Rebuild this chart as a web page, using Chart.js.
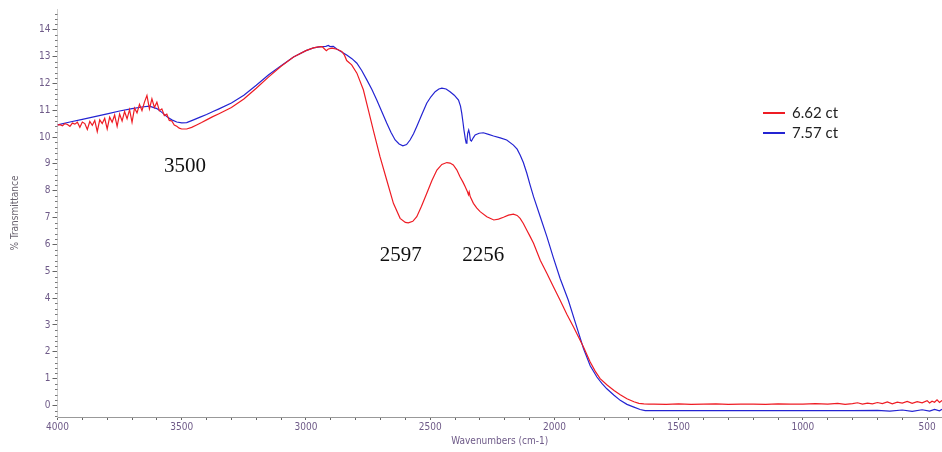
<!DOCTYPE html>
<html><head><meta charset="utf-8">
<script src="https://cdn.jsdelivr.net/npm/chart.js@4.4.1/dist/chart.umd.min.js"></script>
<style>html,body{margin:0;padding:0;background:#fff;}canvas{display:block;}</style>
</head><body>
<canvas id="c" width="942" height="452"></canvas>
<script>
const seriesNames = ['6.62 ct', '7.57 ct'];

const redWavenumbers = [
 4000,3990,3980,3970,3960,3950,3940,3930,3920,3910,3900,3890,3880,3870,3860,3850,3840,3830,3820,3810,
 3800,3790,3780,3770,3760,3750,3740,3730,3720,3710,3700,3690,3680,3670,3660,3650,3640,3630,3620,3610,
 3600,3590,3580,3570,3560,3550,3540,3530,3520,3510,3500,3480,3460,3440,3420,3400,3375,3350,3300,3250,
 3200,3150,3100,3050,3000,2970,2950,2935,2925,2918,2910,2895,2875,2856,2845,2836,2816,2795,2769,2749,
 2729,2702,2675,2648,2621,2600,2588,2570,2554,2535,2514,2493,2473,2453,2433,2420,2407,2393,2380,2368,
 2359,2350,2346,2343,2339,2326,2313,2299,2272,2244,2225,2205,2185,2165,2150,2138,2125,2111,2098,2084,
 2057,2030,2004,1977,1950,1923,1903,1883,1856,1836,1816,1788,1760,1735,1708,1680,1660,1640,1620,1600,
 1550,1500,1450,1400,1350,1300,1250,1200,1150,1100,1050,1000,950,900,860,830,800,780,760,740,
 720,700,680,660,640,620,600,580,560,540,520,500,490,480,470,460,450,440
];
const redTransmittance = [
 10.45,10.46,10.42,10.50,10.47,10.40,10.52,10.48,10.55,10.36,10.56,10.50,10.28,10.58,10.44,10.62,10.20,10.64,10.50,10.70,
 10.30,10.74,10.55,10.82,10.40,10.86,10.60,10.95,10.68,11.02,10.55,11.08,10.90,11.22,10.98,11.30,11.55,11.05,11.42,11.10,
 11.30,10.98,11.05,10.80,10.85,10.62,10.60,10.45,10.40,10.33,10.30,10.30,10.36,10.45,10.54,10.64,10.76,10.87,11.10,11.42,
 11.82,12.24,12.64,12.98,13.22,13.32,13.36,13.37,13.28,13.22,13.28,13.31,13.27,13.19,13.05,12.85,12.69,12.38,11.76,11.01,
 10.26,9.27,8.40,7.53,6.97,6.82,6.80,6.86,7.03,7.42,7.90,8.38,8.77,8.98,9.05,9.03,8.96,8.78,8.52,8.32,
 8.15,7.96,7.85,7.95,7.78,7.53,7.36,7.22,7.03,6.91,6.94,7.01,7.09,7.13,7.08,6.97,6.78,6.53,6.30,6.04,
 5.41,4.92,4.42,3.92,3.40,2.92,2.55,2.18,1.62,1.28,1.00,0.76,0.56,0.40,0.25,0.14,0.08,0.06,0.05,0.05,
 0.04,0.06,0.04,0.05,0.06,0.04,0.05,0.05,0.04,0.06,0.05,0.05,0.07,0.05,0.08,0.04,0.07,0.10,0.05,0.09,
 0.06,0.11,0.07,0.13,0.06,0.12,0.09,0.15,0.08,0.14,0.10,0.18,0.09,0.16,0.12,0.21,0.11,0.19
];

const blueWavenumbers = [
 4000,3950,3900,3850,3800,3750,3700,3660,3630,3600,3580,3560,3540,3520,3500,3480,3450,3426,3400,3374,
 3350,3300,3250,3200,3150,3100,3050,3000,2970,2940,2920,2910,2903,2890,2876,2856,2836,2815,2795,2775,
 2755,2735,2715,2695,2675,2658,2641,2625,2610,2595,2581,2567,2554,2534,2514,2497,2480,2465,2453,2436,
 2420,2403,2386,2378,2373,2368,2364,2358,2355,2352,2349,2345,2342,2338,2334,2326,2319,2303,2286,2265,
 2245,2218,2192,2165,2150,2138,2125,2111,2098,2084,2057,2030,2004,1977,1944,1910,1883,1856,1829,1809,
 1789,1760,1735,1708,1680,1655,1635,1600,1500,1400,1300,1200,1100,1000,900,800,700,650,600,560,
 520,490,470,450,440
];
const blueTransmittance = [
 10.45,10.56,10.66,10.76,10.86,10.97,11.06,11.12,11.15,11.06,10.92,10.76,10.64,10.56,10.53,10.54,10.65,10.74,10.84,10.95,
 11.05,11.27,11.56,11.93,12.32,12.66,12.98,13.22,13.32,13.37,13.38,13.41,13.37,13.38,13.28,13.17,13.06,12.92,12.75,12.47,
 12.13,11.78,11.38,10.95,10.52,10.18,9.89,9.74,9.67,9.72,9.89,10.12,10.39,10.83,11.26,11.50,11.69,11.79,11.82,11.79,
 11.69,11.56,11.38,11.15,10.89,10.55,10.26,9.90,9.77,9.85,10.14,10.26,10.15,9.88,9.85,9.98,10.08,10.14,10.16,10.10,
 10.04,9.97,9.89,9.70,9.55,9.33,9.05,8.65,8.22,7.78,7.03,6.28,5.50,4.73,3.92,2.92,2.12,1.48,1.06,0.82,
 0.62,0.38,0.19,0.04,-0.06,-0.15,-0.19,-0.19,-0.19,-0.19,-0.19,-0.19,-0.19,-0.19,-0.19,-0.19,-0.18,-0.21,-0.17,-0.22,
 -0.16,-0.21,-0.15,-0.20,-0.14
];

const xTickLabels = [500, 1000, 1500, 2000, 2500, 3000, 3500, 4000];
const yTickLabels = [0,1,2,3,4,5,6,7,8,9,10,11,12,13,14];
const peakLabels = ['3500', '2597', '2256'];
const peakWavenumbers = [3487, 2618, 2286];
const peakLevels = [8.92, 5.59, 5.59];

const tickFont = { family: '"Liberation Sans Narrow","DejaVu Sans Condensed","Liberation Sans",sans-serif', size: 10 };
const tickColor = '#6e5a88';

const toPoints = (xs, ys) => xs.map((x, i) => ({ x: x, y: ys[i] }));

const extrasPlugin = {
  id: 'extras',
  afterDraw(chart) {
    const ctx = chart.ctx;
    const xs = chart.scales.x, ys = chart.scales.y;
    ctx.save();
    // minor ticks on y axis (every 0.2)
    ctx.strokeStyle = '#777';
    ctx.lineWidth = 1;
    for (let k = -2; k <= 74; k++) {
      if (k % 5 === 0) continue;
      const v = k / 5;
      if (v < ys.min || v > ys.max) continue;
      const py = Math.round(ys.getPixelForValue(v)) + 0.5;
      ctx.beginPath();
      ctx.moveTo(xs.left - 2.5, py);
      ctx.lineTo(xs.left, py);
      ctx.stroke();
    }
    // peak annotations
    ctx.fillStyle = '#111';
    ctx.font = '21px "Liberation Serif","Times New Roman",serif';
    ctx.textAlign = 'center';
    ctx.textBaseline = 'middle';
    peakLabels.forEach((t, i) => {
      ctx.fillText(t, xs.getPixelForValue(peakWavenumbers[i]), ys.getPixelForValue(peakLevels[i]));
    });
    // legend
    ctx.font = '15px Lato, "Open Sans", sans-serif';
    ctx.textAlign = 'left';
    chart.data.datasets.forEach((ds, i) => {
      const ly = 113 + i * 20;
      ctx.strokeStyle = ds.borderColor;
      ctx.lineWidth = 2;
      ctx.beginPath();
      ctx.moveTo(763, ly);
      ctx.lineTo(785, ly);
      ctx.stroke();
      ctx.fillStyle = '#222';
      ctx.fillText(ds.label, 792, ly);
    });
    ctx.restore();
  }
};

new Chart(document.getElementById('c'), {
  type: 'line',
  data: {
    datasets: [
      { label: seriesNames[0], data: toPoints(redWavenumbers, redTransmittance), borderColor: 'rgb(238,28,36)', borderWidth: 1.2, pointRadius: 0, tension: 0, fill: false },
      { label: seriesNames[1], data: toPoints(blueWavenumbers, blueTransmittance), borderColor: 'rgb(36,36,210)', borderWidth: 1.2, pointRadius: 0, tension: 0, fill: false }
    ]
  },
  options: {
    responsive: false,
    animation: false,
    devicePixelRatio: 1,
    layout: { padding: { top: 9, right: 0, left: 0, bottom: 0 } },
    plugins: { legend: { display: false }, tooltip: { enabled: false } },
    scales: {
      x: {
        type: 'linear',
        reverse: true,
        min: 440,
        max: 4000,
        afterBuildTicks(scale) {
          const t = [];
          for (let v = 500; v <= 4000; v += 100) t.push({ value: v });
          scale.ticks = t;
        },
        afterFit(scale) { scale.height = 35; },
        ticks: {
          autoSkip: false, maxRotation: 0, padding: 1,
          font: tickFont, color: tickColor,
          callback: (v) => xTickLabels.includes(v) ? String(v) : ''
        },
        grid: { drawOnChartArea: false, drawTicks: true, tickLength: 3, tickColor: '#666' },
        border: { color: '#999', width: 1 },
        title: { display: true, text: 'Wavenumbers (cm-1)', font: tickFont, color: tickColor, padding: { top: 0, bottom: 5 } }
      },
      y: {
        type: 'linear',
        min: -0.43,
        max: 14.77,
        afterBuildTicks(scale) {
          scale.ticks = yTickLabels.map(v => ({ value: v }));
        },
        afterFit(scale) { scale.width = 57.5; },
        ticks: { autoSkip: false, padding: 2, font: tickFont, color: tickColor, callback: (v) => String(v) },
        grid: { drawOnChartArea: false, drawTicks: true, tickLength: 5, tickColor: '#666' },
        border: { color: '#d0d0d0', width: 1 },
        title: { display: true, text: '% Transmittance', font: tickFont, color: '#6a6470', padding: { top: 9, bottom: 0 } }
      }
    }
  },
  plugins: [extrasPlugin]
});
</script>
</body></html>
